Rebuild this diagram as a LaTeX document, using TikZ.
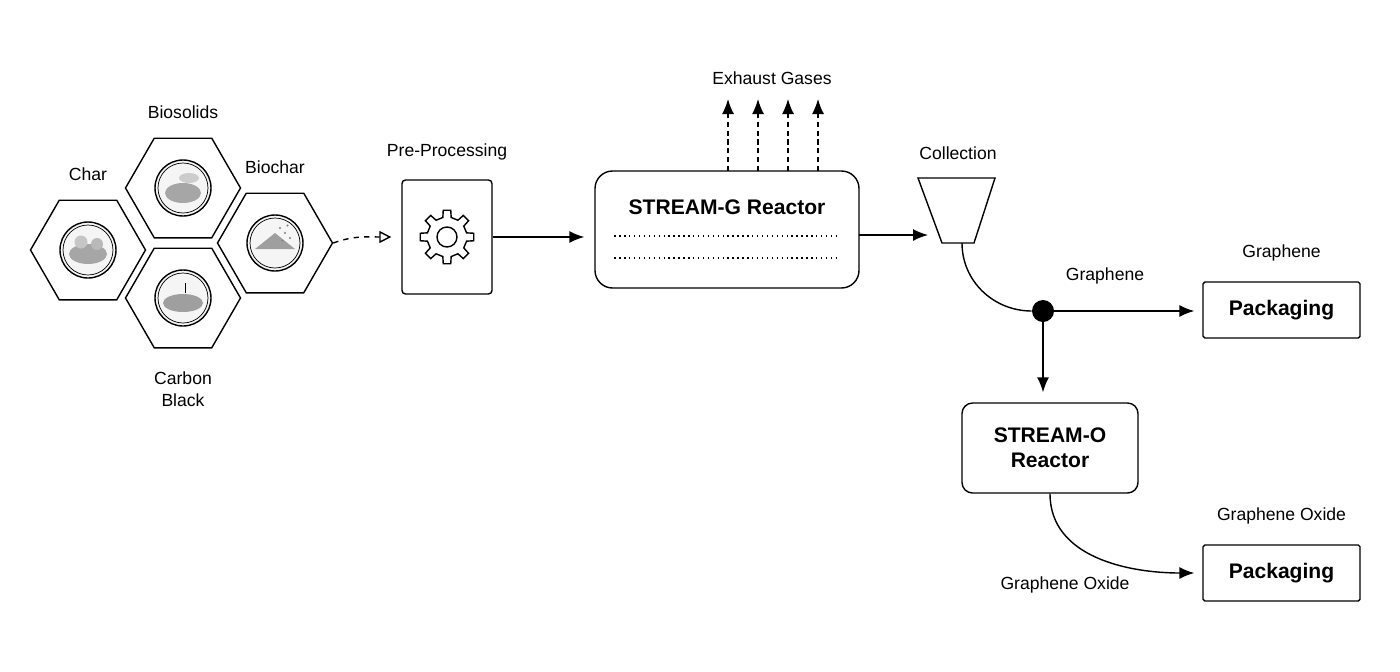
\documentclass[tikz,border=0pt]{standalone}
\usepackage{fontspec}
\setmainfont{Liberation Sans}
\usetikzlibrary{positioning,arrows.meta,shapes.geometric}
\tikzset{
  hexa/.style={regular polygon,regular polygon sides=6,draw,thick,minimum size=2.3cm,inner sep=0pt},
  badge/.style={circle,draw,thick,minimum size=1.12cm,fill=gray!8},
  lbl/.style={font=\normalsize},
  boxnode/.style={draw,thick,rounded corners=3pt},
  flow/.style={thick,-{Latex[length=3mm,width=2.4mm]}},
}
\begin{document}
\begin{tikzpicture}[x=1cm,y=1cm]
    \useasboundingbox (0,0) rectangle (28,-13.42);
    % feedstock hexagons
    \node[hexa] (char) at (1.76,-5.0) {};
    \node[hexa] (bios) at (3.66,-3.76) {};
    \node[hexa] (cblk) at (3.66,-5.96) {};
    \node[hexa] (bioc) at (5.5,-4.86) {};
    \foreach \h in {char,bios,cblk,bioc}{
        \node[badge] (\h-b) at (\h) {};
        \draw[thin] (\h.center) circle (0.5);
    }
    % little sketches inside the badges
    \begin{scope}[shift={(char.center)}]
        \fill[gray!70] (0,-0.08) ellipse (0.38 and 0.2);
        \fill[gray!45] (-0.14,0.16) circle (0.13);
        \fill[gray!55] (0.18,0.12) circle (0.12);
    \end{scope}
    \begin{scope}[shift={(bios.center)}]
        \fill[gray!70] (0,-0.1) ellipse (0.36 and 0.2);
        \fill[gray!40] (0.12,0.2) ellipse (0.2 and 0.1);
    \end{scope}
    \begin{scope}[shift={(cblk.center)}]
        \fill[gray!75] (0,-0.1) ellipse (0.4 and 0.18);
        \draw (0.05,0.1) -- (0.05,0.3);
    \end{scope}
    \begin{scope}[shift={(bioc.center)}]
        \fill[gray!75] (-0.4,-0.12) -- (0,0.2) -- (0.4,-0.12) -- cycle;
        \foreach \d in {(0.1,0.3),(0.2,0.2),(0.25,0.35),(0.3,0.1),(0.15,0.05)}
            \fill[gray] \d circle (0.6pt);
    \end{scope}
    \node[lbl,above=0.25cm of char] {Char};
    \node[lbl,above=0.25cm of bios] {Biosolids};
    \node[lbl,above=0.25cm of bioc] {Biochar};
    \node[lbl,below=0.35cm of cblk,align=center] {Carbon\\Black};

    % pre-processing
    \node[boxnode,rounded corners=2pt,minimum width=1.8cm,minimum height=2.28cm] (pre) at (8.94,-4.74) {};
    \node[lbl,above=0.25cm of pre] {Pre-Processing};
    \begin{scope}[shift={(pre.center)}]
        \draw[thick] (-12:0.4) \foreach \a in {0,45,...,315}{
            -- ({\a-12}:0.4) -- ({\a-8}:0.54) -- ({\a+8}:0.54) -- ({\a+12}:0.4) } -- cycle;
        \draw[thick] (0,0) circle (0.2);
    \end{scope}
    \draw[thick,dashed,-{Triangle[open,length=2.4mm,width=2.4mm]}] (bioc.east) to[out=20,in=180] ([xshift=-0.2cm]pre.west);

    % STREAM-G reactor
    \node[boxnode,rounded corners=10pt,minimum width=5.28cm,minimum height=2.34cm] (sg) at (14.54,-4.59) {};
    \node[font=\large\bfseries] at ([yshift=0.45cm]sg.center) {STREAM-G Reactor};
    \draw[dotted,thick] ([xshift=0.4cm,yshift=-0.13cm]sg.west) -- ([xshift=-0.42cm,yshift=-0.13cm]sg.east);
    \draw[dotted,thick] ([xshift=0.4cm,yshift=-0.57cm]sg.west) -- ([xshift=-0.42cm,yshift=-0.57cm]sg.east);
    \draw[flow] (pre.east) -- ([xshift=-0.2cm]sg.west |- pre.east);
    \foreach \x in {14.56,15.16,15.76,16.36}
        \draw[thick,densely dashed,-{Latex[length=3mm,width=2.4mm]}] (\x,-3.42) -- (\x,-1.98);
    \node[lbl] (exh) at (15.44,-1.56) {Exhaust Gases};

    % collection funnel
    \draw[thick] (18.36,-3.56) -- (19.9,-3.56) -- (19.48,-4.86) -- (18.84,-4.86) -- cycle;
    \coordinate (funbot) at (19.24,-4.86);
    \node[lbl] at (19.16,-3.06) {Collection};
    \draw[flow] (17.18,-4.7) -- (18.56,-4.7);

    % splitter
    \node[circle,fill=black,minimum size=0.44cm,inner sep=0pt] (dot) at (20.86,-6.22) {};
    \draw[thick] (funbot) to[out=-90,in=180] (dot.west);

    % graphene packaging
    \node[boxnode,rounded corners=1pt,minimum width=3.14cm,minimum height=1.12cm,font=\large\bfseries] (pg) at (25.63,-6.2) {Packaging};
    \node[lbl,above=0.28cm of pg] {Graphene};
    \draw[flow] (dot.east) -- ([xshift=-0.16cm]pg.west |- dot.east);
    \node[lbl] at (22.1,-5.52) {Graphene};

    % STREAM-O reactor
    \node[boxnode,rounded corners=6pt,minimum width=3.52cm,minimum height=1.8cm,align=center,font=\large\bfseries] (so) at (21.0,-8.96) {STREAM-O\\Reactor};
    \draw[flow] (dot.south) -- ([yshift=0.2cm]dot.south |- so.north);

    % graphene oxide packaging
    \node[boxnode,rounded corners=1pt,minimum width=3.14cm,minimum height=1.12cm,font=\large\bfseries] (po) at (25.63,-11.46) {Packaging};
    \node[lbl,above=0.28cm of po] {Graphene Oxide};
    \draw[flow] (so.south) to[out=-90,in=180] ([xshift=-0.16cm]po.west);
    \node[lbl] at (21.3,-11.7) {Graphene Oxide};
\end{tikzpicture}
\end{document}
